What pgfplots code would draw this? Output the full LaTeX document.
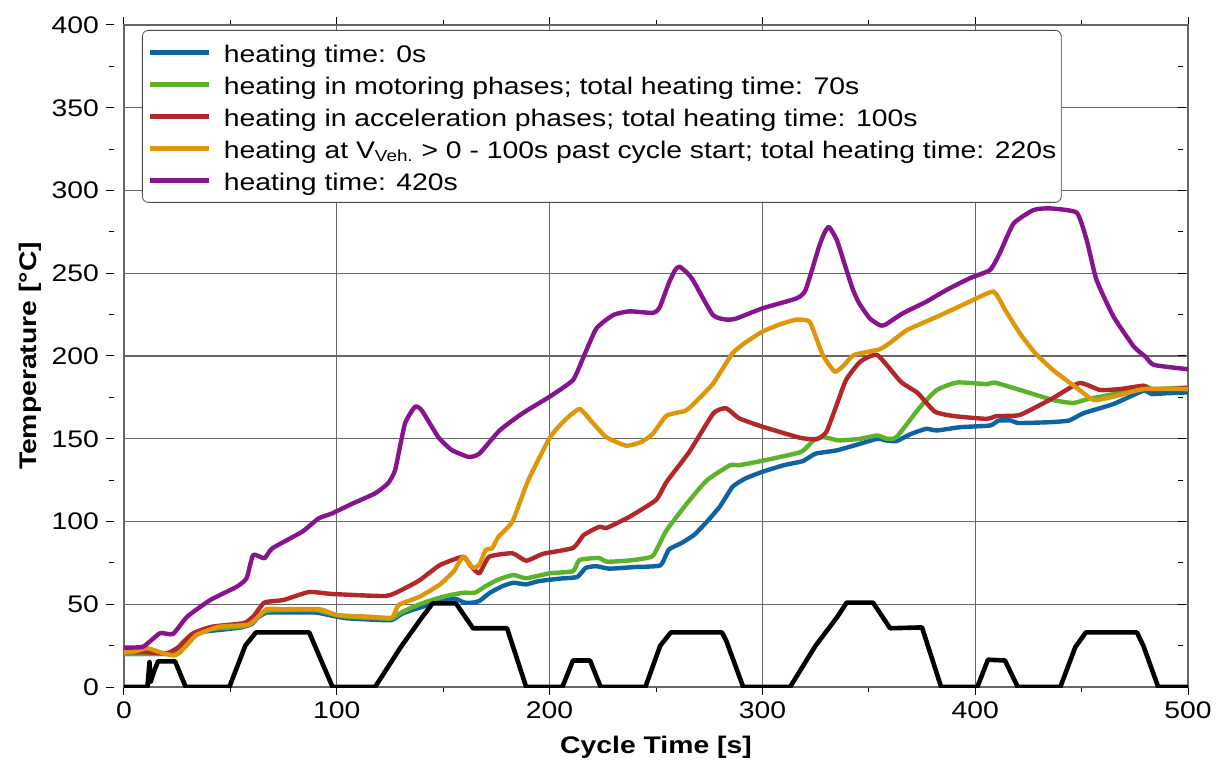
\documentclass[border=0pt]{standalone}
\usepackage{pgfplots}
\pgfplotsset{compat=1.18}
\usepackage{fontspec}
\setmainfont{Liberation Sans}[FakeStretch=1.18]
\definecolor{cBlue}{RGB}{16,99,163}
\definecolor{cGreen}{RGB}{92,178,42}
\definecolor{cRed}{RGB}{178,40,40}
\definecolor{cOrange}{RGB}{224,150,10}
\definecolor{cPurple}{RGB}{135,20,140}
\begin{document}
\begin{tikzpicture}
\begin{axis}[
  scale only axis,
  width=532pt, height=331pt,
  xmin=0, xmax=500, ymin=0, ymax=400,
  xtick distance=100, ytick distance=50,
  minor x tick num=1, minor y tick num=1,
  tick align=outside,
  major tick length=4pt, minor tick length=2.5pt,
  grid=major,
  major grid style={draw=black!60, line width=0.55pt},
  axis line style={draw=black!60, line width=0.55pt},
  every tick/.style={black, line width=0.5pt},
  ytick style={xshift=-5pt},
  /pgf/number format/assume math mode=true,
  tick label style={font=\fontsize{12}{12}\selectfont},
  yticklabel style={xshift=-5pt},
  xlabel={\textbf{Cycle Time [s]}},
  ylabel={\textbf{Temperature [°C]}},
  label style={font=\fontsize{12}{13}\selectfont},
  xlabel style={at={(rel axis cs:0.5,0)}, anchor=center, yshift=-30pt},
  ylabel style={at={(rel axis cs:0,0.5)}, anchor=center, yshift=47pt},
  legend cell align=left,
  legend style={
    at={(rel axis cs:0,1)}, anchor=north west,
    xshift=9pt, yshift=-2.5pt,
    rounded corners=3pt, draw=black!70,
    font=\fontsize{12}{13}\selectfont,
    inner xsep=2.5pt, inner ysep=3pt,
    nodes={inner sep=0pt, text height=13pt, text depth=3pt},
    row sep=0pt,
    /tikz/every odd column/.append style={column sep=6.5pt},
  },
  legend image code/.code={\draw[#1] (0pt,0pt) -- (29.5pt,0pt);},
  every axis plot/.append style={line width=2.2pt, line join=round},
]
\addplot[cBlue, smooth, tension=0.3] coordinates {
(0,20)(10,20)(20,20)(24,22)(28,27)(32,31)(38,33.5)(45,34.5)(55,36)(60,38)(63,42)(67,45)(75,45)(90,45)(98,43)(105,41.5)(120,40.5)(126,40.5)(131,44.5)(139,48)(147,51)(155,53.5)(160,51)(164,51)(167,52)(172,57)(178,61)(183,63)(189,62)(195,64)(205,65.5)(213,66.5)(217,72)(222,73)(228,71.5)(240,72.5)(252,73.5)(256,83)(262,87)(268,92)(274,100)(280,109)(286,121)(292,126)(300,130)(310,134)(319,136.5)(325,141)(335,143)(346,147)(354,150)(358,149)(363,148.6)(370,153)(377,156)(382,155)(393,157)(407,158)(411,161)(417,161)(420,159.5)(435,160)(444,161)(451,165.5)(465,171)(479,179)(483,177)(490,177.5)(500,178)
};
\addlegendentry{heating time: 0s}
\addplot[cGreen, smooth, tension=0.3] coordinates {
(0,20)(10,20)(20,20)(24,22)(28,27.5)(32,32)(38,34.5)(45,35.5)(55,36.5)(60,38.5)(63,43)(67,46)(75,46.5)(90,46.5)(98,44)(105,42.5)(120,41.5)(126,41.5)(131,45.5)(139,50)(147,53.5)(155,56)(160,57)(165,57)(170,61)(176,65)(183,67.7)(189,65.7)(200,68.7)(211,70)(214,76.7)(223,78)(227,75.7)(238,76.5)(248,78.7)(251,84.8)(255,94.8)(264.6,111)(274,125)(284.8,134)(289,134)(300,136.7)(318,142)(324,149)(328.6,151)(336,149)(346,150)(354,152)(358.5,150)(363,151)(374,169)(382,179.5)(391.5,184)(405.6,183)(409,184)(421,179.5)(436.6,173.4)(446,171.6)(453,174)(465,177)(479,182)(483.5,180)(500,181)
};
\addlegendentry{heating in motoring phases; total heating time: 70s}
\addplot[cRed, smooth, tension=0.3] coordinates {
(0,21)(10,21)(20.4,20.5)(26,24.4)(32.6,32.5)(41.6,36.5)(56.4,38.6)(61,43)(66,51)(75,52.6)(87,57.4)(98,56.2)(123,55)(131,59)(139,64.6)(148.5,73.7)(159.4,78.7)(163,73)(167,68.7)(171.6,78.7)(182.5,80.8)(189,76.3)(197,80.5)(211,84)(216,91.8)(223.5,96.9)(226.6,96)(237.6,102.9)(250,113)(255,124)(265.6,142)(277,165.4)(283,168.4)(289,162.4)(300,157.3)(317.7,150.6)(325.6,149.8)(330,154)(334.6,169.4)(339.3,185.5)(346,196.6)(354,200.6)(365,184.5)(373,177.6)(381,166.4)(390,163.7)(405.6,162)(410,163.7)(421,164.4)(436.6,174.6)(449,183.7)(458.6,179.5)(468,180)(479,182)(483.5,179.3)(500,180.7)
};
\addlegendentry{heating in acceleration phases; total heating time: 100s}
\addplot[cOrange, smooth, tension=0.3] coordinates {
(0,21)(5,21.5)(10.7,23.5)(17,21)(23,19)(26,20.5)(30,26)(34,31.4)(40,34.5)(45,36.5)(58,37.5)(62,41)(67,47)(75,47)(92,47)(100,43.5)(115,42.5)(126,42)(129,49.5)(139,54.6)(148.5,62)(155,70)(159.4,78.7)(164,72)(167,74)(170,82.8)(173,83.8)(176,90.8)(182.5,99.9)(190,125)(200,150.4)(206.4,160.3)(214,168)(220,160)(226.6,151)(236,145.8)(243,148)(248.5,153)(255,164)(264,167)(270,174)(277,183.6)(286,201.7)(293,209)(300,214.7)(308,219)(316,222)(322,221)(325,212)(328.6,200)(334,190.5)(338,194)(343,200.6)(355,204)(360,208)(368,215.7)(382,223.7)(396,232)(408.5,238.9)(414,228)(421,213.7)(428,202)(436.6,191.5)(449,179.5)(455.6,173.4)(465,175.4)(479,180)(500,180)
};
\addlegendentry{heating at V\textsubscript{Veh.} > 0 - 100s past cycle start; total heating time: 220s}
\addplot[cPurple, smooth, tension=0.3] coordinates {
(0,23.8)(9,24.4)(16.9,32.5)(23,32)(29.7,42.5)(40.6,52.6)(53,60.6)(57.6,65.7)(60.7,79.8)(66,77.8)(69.7,83.8)(83.7,93.8)(91.5,101.9)(97.8,104.9)(107,110.6)(118,117)(124,123)(127.4,131)(132,159)(136.8,169.4)(140,167)(147.7,151)(154,143.2)(162,139)(167,141)(176.5,155)(187.3,165.4)(200,175.4)(211,185.5)(216,199.6)(222,216.7)(230,224.8)(237.6,227)(248.5,226)(251.6,229)(256,244)(259,252)(261,254)(264,251)(267.3,246)(276.7,224.8)(283,222)(287.6,222.6)(300,228.8)(316,234.8)(320.3,239.9)(326.6,266)(329,274)(331.3,278)(335,270)(339,254)(342.6,239.9)(345.5,231.8)(350.4,222.8)(355,218.7)(357.5,218.7)(366,225.8)(377,232.8)(386.5,239.9)(397.5,247)(407,252)(411.5,262)(418,280)(427.4,288.2)(435,289.2)(447.7,286.6)(452.4,270)(457,246)(465,223.8)(474.6,205.6)(480,199.6)(484,194.6)(500,192)
};
\addlegendentry{heating time: 420s}
\addplot[black, line width=2.3pt, forget plot] coordinates {
(0,0)(11,0)(12,15)(12.5,3)(14,9)(16,15.5)(24,15.5)(29,0)(49.5,0)(57,25)(62,33)(87,33)(98,0)(118,0)(130,24)(140,42)(145,50.5)(156,50.5)(164,35.5)(180,35.5)(189,0)(206,0)(211,16)(219,16)(224,0)(245,0)(252,25)(257,33)(281,33)(283,28)(291,0)(313,0)(325,25)(335,42)(339.6,51)(352,51)(360,35.5)(375,36)(384,0)(401,0)(406,16.5)(414,16)(420,0)(440,0)(447,24)(452,33)(476,33)(479,25)(486,0)(500,0)
};
\draw[black!60, line width=0.55pt] ([xshift=-5pt]rel axis cs:0,0) -- ([xshift=-5pt]rel axis cs:0,1);
\end{axis}
\path ([yshift=12.5pt]current axis.north west);
\path ([xshift=16.5pt]current axis.south east);
\path ([yshift=-39.5pt]current axis.south west);
\path ([xshift=-62pt]current axis.west);
\end{tikzpicture}
\end{document}
